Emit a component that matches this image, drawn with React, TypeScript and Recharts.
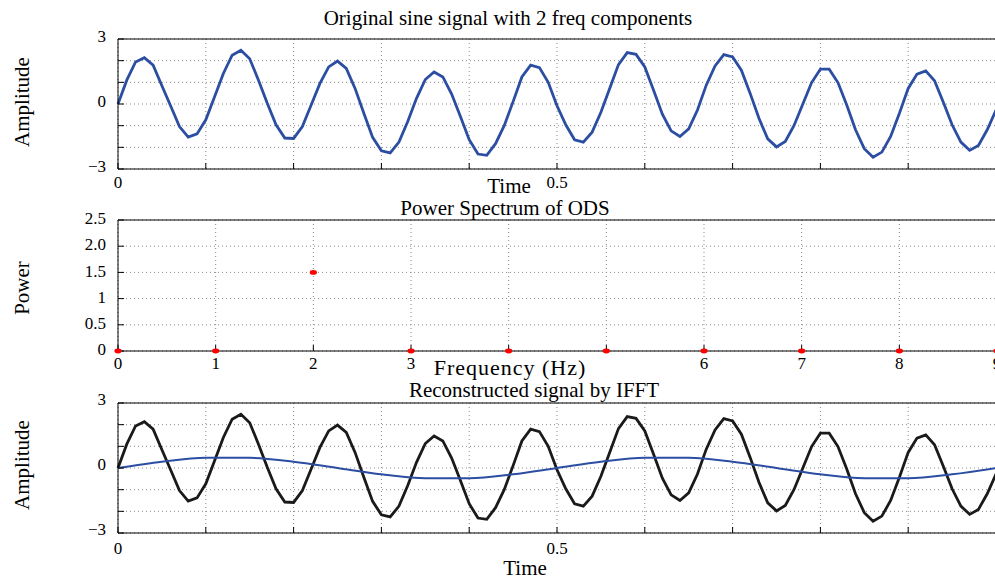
import React from "react";
import {
  LineChart,
  Line,
  XAxis,
  YAxis,
  CartesianGrid,
} from "recharts";

const SAMPLE_STEP = 0.01;
const SIGNAL = [
  0, 1.1, 1.94, 2.14, 1.79, 0.84, -0.09, -1.04, -1.53, -1.38,
  -0.73, 0.34, 1.41, 2.25, 2.48, 2.09, 1.1, 0.03, -0.96, -1.57,
  -1.59, -1.04, -0.05, 0.95, 1.71, 1.98, 1.64, 0.72, -0.43, -1.54,
  -2.16, -2.26, -1.76, -0.81, 0.26, 1.13, 1.48, 1.25, 0.46, -0.58,
  -1.65, -2.31, -2.37, -1.83, -0.99, 0.11, 1.25, 1.79, 1.68, 1.0,
  -0.08, -0.96, -1.65, -1.76, -1.3, -0.38, 0.72, 1.82, 2.37, 2.29,
  1.71, 0.64, -0.47, -1.24, -1.5, -1.15, -0.28, 0.87, 1.76, 2.28,
  2.17, 1.56, 0.49, -0.66, -1.61, -1.98, -1.73, -0.99, 0, 0.99,
  1.61, 1.61, 0.99, -0.05, -1.19, -2.06, -2.46, -2.22, -1.5, -0.43,
  0.72, 1.38, 1.53, 1.07, 0.08, -0.96, -1.76, -2.14, -1.91, -1.19,
  -0.28,
];
// slow component, read every 5th sample
const SLOW_EVERY = 5;
const SLOW_COMPONENT = [
  0, 0.29, 0.47, 0.47, 0.29, 0, -0.29, -0.47, -0.47, -0.29,
  0, 0.29, 0.47, 0.47, 0.29, 0, -0.29, -0.47, -0.47, -0.29, 0,
];

const FREQS = [0, 1, 2, 3, 4, 5, 6, 7, 8, 9];
const POWER = [0, 0, 1.5, 0, 0, 0, 0, 0, 0, 0];
// 4 and 5 sit under the axis label in the original
const FREQ_LABELS = ["0", "1", "2", "3", "", "", "6", "7", "8", "9"];

const TIME_TICKS = [0, 0.1, 0.2, 0.3, 0.4, 0.5, 0.6, 0.7, 0.8, 0.9, 1];
const TIME_LABELS: Record<string, string> = { "0": "0", "0.5": "0.5" };
const AMP_TICKS = [-3, -2, -1, 0, 1, 2, 3];
const AMP_LABELS: Record<string, string> = { "-3": "\u22123", "0": "0", "3": "3" };
const POWER_TICKS = [0, 0.5, 1, 1.5, 2, 2.5];
const POWER_LABELS = ["0", "0.5", "1", "1.5", "2.0", "2.5"];

const FONT = '"Liberation Serif", "Times New Roman", serif';
const BLUE = "#2b4ea2";
const tickStyle = { fontSize: 17, fill: "#000", fontFamily: FONT };
const axisLine = { stroke: "#000", strokeWidth: 1 };
const tickLine = { stroke: "#000", strokeWidth: 1 };

const signalData = SIGNAL.map((v, i) => ({
  t: +(i * SAMPLE_STEP).toFixed(2),
  v,
  slow: i % SLOW_EVERY === 0 ? SLOW_COMPONENT[i / SLOW_EVERY] : null,
}));
const powerData = FREQS.map((f, i) => ({ f, p: POWER[i] }));

// y tick labels sit a few px above their tick, as in the original
const yTick = (label: (v: number) => string, lift: number) => (props: any) => (
  <text
    x={props.x}
    y={props.y - lift}
    dy="0.36em"
    textAnchor="end"
    fontSize={17}
    fontFamily={FONT}
    fill="#000"
  >
    {label(props.payload.value)}
  </text>
);

function Txt({ x, y, children, rotate, size = 21, spacing = 0 }: any) {
  return (
    <div
      style={{
        position: "absolute",
        left: x,
        top: y,
        transform: `translate(-50%, -50%)${rotate ? " rotate(-90deg)" : ""}`,
        whiteSpace: "nowrap",
        fontSize: size,
        lineHeight: 1,
        letterSpacing: spacing,
        fontFamily: FONT,
        color: "#000",
      }}
    >
      {children}
    </div>
  );
}

function AmpChart({ top, withSlow, lineColor, xTickMargin, lift }: any) {
  return (
    <div style={{ position: "absolute", left: 0, top }}>
      <LineChart
        width={1010}
        height={200}
        data={signalData}
        margin={{ top: 38, right: 13, bottom: 11, left: 0 }}
      >
        <CartesianGrid stroke="#8a8a8a" strokeDasharray="1 3" />
        <XAxis
          dataKey="t"
          type="number"
          domain={[0, 1]}
          ticks={TIME_TICKS}
          interval={0}
          height={20}
          tickSize={-6}
          tickMargin={xTickMargin}
          axisLine={axisLine}
          tickLine={tickLine}
          tick={tickStyle}
          tickFormatter={(v: number) => TIME_LABELS[String(v)] ?? ""}
        />
        <XAxis
          xAxisId="top"
          orientation="top"
          type="number"
          domain={[0, 1]}
          ticks={TIME_TICKS}
          height={1}
          tickSize={-6}
          tick={false}
          axisLine={axisLine}
          tickLine={tickLine}
        />
        <YAxis
          type="number"
          domain={[-3, 3]}
          ticks={AMP_TICKS}
          interval={0}
          width={118}
          tickSize={-6}
          tickMargin={18}
          axisLine={axisLine}
          tickLine={tickLine}
          tick={yTick((v) => AMP_LABELS[String(v)] ?? "", lift)}
        />
        <YAxis
          yAxisId="right"
          orientation="right"
          type="number"
          domain={[-3, 3]}
          ticks={AMP_TICKS}
          width={1}
          tickSize={-6}
          tick={false}
          axisLine={axisLine}
          tickLine={tickLine}
        />
        <Line
          dataKey="v"
          type="linear"
          stroke={lineColor}
          strokeWidth={2.8}
          dot={false}
          isAnimationActive={false}
        />
        {withSlow && (
          <Line
            dataKey="slow"
            type="monotone"
            stroke={BLUE}
            strokeWidth={2}
            dot={false}
            connectNulls
            isAnimationActive={false}
          />
        )}
      </LineChart>
    </div>
  );
}

function PowerChart({ top }: any) {
  return (
    <div style={{ position: "absolute", left: 0, top }}>
      <LineChart
        width={1010}
        height={190}
        data={powerData}
        margin={{ top: 29, right: 12, bottom: 9, left: 0 }}
      >
        <CartesianGrid stroke="#8a8a8a" strokeDasharray="1 3" />
        <XAxis
          dataKey="f"
          type="number"
          domain={[0, 9]}
          ticks={FREQS}
          interval={0}
          height={20}
          tickSize={-6}
          tickMargin={12}
          axisLine={axisLine}
          tickLine={tickLine}
          tick={tickStyle}
          tickFormatter={(v: number) => FREQ_LABELS[FREQS.indexOf(v)] ?? ""}
        />
        <XAxis
          xAxisId="top"
          orientation="top"
          type="number"
          domain={[0, 9]}
          ticks={FREQS}
          height={1}
          tickSize={-6}
          tick={false}
          axisLine={axisLine}
          tickLine={tickLine}
        />
        <YAxis
          type="number"
          domain={[0, 2.5]}
          ticks={POWER_TICKS}
          interval={0}
          width={118}
          tickSize={-6}
          tickMargin={18}
          axisLine={axisLine}
          tickLine={tickLine}
          tick={yTick((v) => POWER_LABELS[POWER_TICKS.indexOf(v)] ?? "", 2)}
        />
        <YAxis
          yAxisId="right"
          orientation="right"
          type="number"
          domain={[0, 2.5]}
          ticks={POWER_TICKS}
          width={1}
          tickSize={-6}
          tick={false}
          axisLine={axisLine}
          tickLine={tickLine}
        />
        <Line
          dataKey="p"
          type="linear"
          stroke="none"
          isAnimationActive={false}
          dot={(props: any) => (
            <ellipse
              key={props.index}
              cx={props.cx}
              cy={props.cy}
              rx={3.6}
              ry={2.4}
              fill="#ff0000"
            />
          )}
        />
      </LineChart>
    </div>
  );
}

export default function App() {
  return (
    <div
      style={{
        position: "absolute",
        left: 0,
        top: 0,
        width: 995,
        height: 580,
        overflow: "hidden",
        background: "#fff",
      }}
    >
      <AmpChart top={0} lineColor={BLUE} xTickMargin={13} lift={3} />
      <PowerChart top={190} />
      <AmpChart top={364} withSlow lineColor="#1a1a1a" xTickMargin={15} lift={4} />

      <Txt x={508} y={18}>Original sine signal with 2 freq components</Txt>
      <Txt x={509} y={186}>Time</Txt>
      <Txt x={505} y={208}>Power Spectrum of ODS</Txt>
      <Txt x={510} y={368} size={22} spacing={1}>Frequency (Hz)</Txt>
      <Txt x={534} y={390}>Reconstructed signal by IFFT</Txt>
      <Txt x={525} y={568}>Time</Txt>

      <Txt x={22} y={102} rotate>Amplitude</Txt>
      <Txt x={22} y={288} rotate>Power</Txt>
      <Txt x={22} y={465} rotate>Amplitude</Txt>
    </div>
  );
}
